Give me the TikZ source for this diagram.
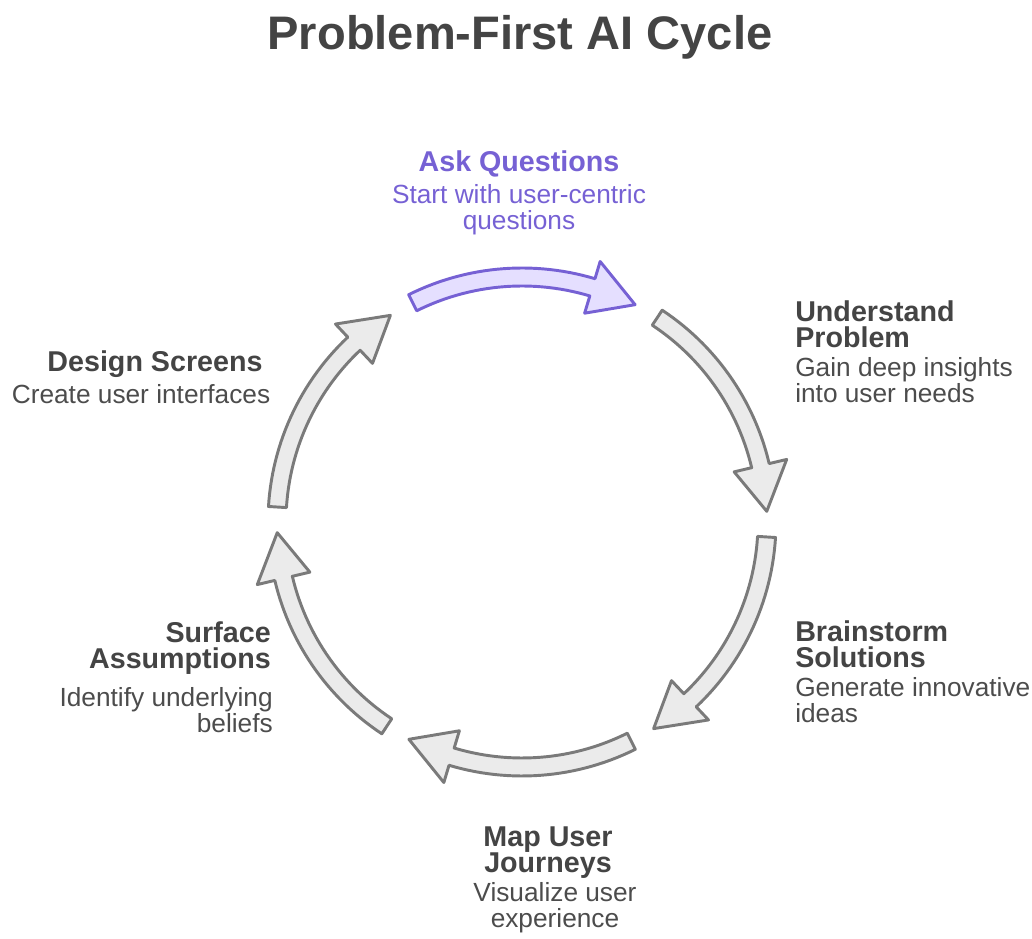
\documentclass[tikz,border=0pt]{standalone}
\usepackage{fontspec}
\setmainfont{Liberation Sans}
\usetikzlibrary{positioning}
\definecolor{myink}{RGB}{68,68,68}
\definecolor{mysoft}{RGB}{76,76,76}
\definecolor{mygray}{RGB}{122,122,122}
\definecolor{mylight}{RGB}{235,235,235}
\definecolor{mypurple}{RGB}{118,97,212}
\definecolor{mylilac}{RGB}{229,223,255}
\tikzset{
  titletext/.style={font=\bfseries\fontsize{35.3}{40}\selectfont, text=myink,
    inner sep=0pt, anchor=base},
  headtext/.style={font=\bfseries\fontsize{21.5}{19.5}\selectfont, text=myink,
    inner sep=0pt, anchor=base},
  desctext/.style={font=\fontsize{19.7}{20}\selectfont, text=mysoft,
    inner sep=0pt, anchor=base},
  grayarrow/.style={draw=mygray, fill=mylight, line width=2.2pt, line join=round},
  activearrow/.style={draw=mypurple, fill=mylilac, line width=2.2pt, line join=round}
}
% curved arrow of the ring: #1 = middle angle, #2 = style
\newcommand{\ringarrow}[2]{%
  \draw[#2] plot[domain=#1+26.5:#1-16.7, samples=30] (\x:254)
    -- (#1-16.7:272) -- (#1-27.5:245) -- (#1-16.7:218)
    -- plot[domain=#1-16.7:#1+26.5, samples=30] (\x:236) -- cycle;
}

\begin{document}
\begin{tikzpicture}[x=0.75pt, y=0.75pt]
  \useasboundingbox (0,0) rectangle (1032,939);

  % ── Title ───────────────────────────────────────────────────────────────
  \node[titletext] (title) at (520,889) {Problem-First AI Cycle};

  % ── Ring of arrows ──────────────────────────────────────────────────────
  \begin{scope}[shift={(522,417)}]
    \ringarrow{90}{activearrow}
    \ringarrow{30}{grayarrow}
    \ringarrow{-30}{grayarrow}
    \ringarrow{-90}{grayarrow}
    \ringarrow{-150}{grayarrow}
    \ringarrow{150}{grayarrow}
  \end{scope}

  % ── Step labels (base = last line) ──────────────────────────────────────
  \node[headtext, text=mypurple] (askhead) at (519,767) {Ask Questions};
  \node[desctext, text=mypurple, align=center] (askdesc) at (519,709)
    {Start with user-centric\\questions};

  \node[headtext, anchor=base west, align=left] (undhead) at (795,591)
    {Understand\\Problem};
  \node[desctext, anchor=base west, align=left] (unddesc) at (795,536)
    {Gain deep insights\\into user needs};

  \node[headtext, anchor=base west, align=left] (brainhead) at (795,271)
    {Brainstorm\\Solutions};
  \node[desctext, anchor=base west, align=left] (braindesc) at (795,216)
    {Generate innovative\\ideas};

  \node[headtext, align=center] (maphead) at (548,66)
    {Map User\\Journeys};
  \node[desctext, align=center] (mapdesc) at (555,11)
    {Visualize user\\experience};

  \node[headtext, anchor=base east, align=right] (surfhead) at (271,270)
    {Surface\\Assumptions};
  \node[desctext, anchor=base east, align=right] (surfdesc) at (273,206)
    {Identify underlying\\beliefs};

  \node[headtext] (designhead) at (155,567) {Design Screens};
  \node[desctext] (designdesc) at (141,535) {Create user interfaces};
\end{tikzpicture}
\end{document}
